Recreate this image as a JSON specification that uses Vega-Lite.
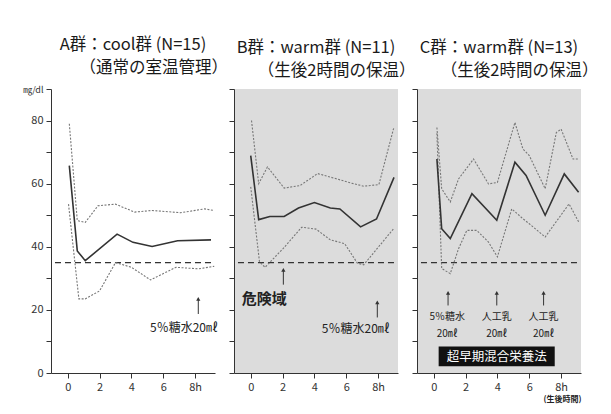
{
  "$schema": "https://vega.github.io/schema/vega-lite/v6.json",
  "background": "white",
  "padding": {"left": 22, "top": 36, "right": 5, "bottom": 5},
  "bounds": "flush",
  "spacing": 19,
  "config": {
    "font": "Noto Sans CJK JP",
    "view": {"stroke": null},
    "axis": {"grid": false, "domainColor": "#333", "tickColor": "#333", "labelColor": "#333", "labelFont": "Noto Sans CJK JP", "labelFontSize": 11, "tickSize": 5, "labelPadding": 3, "titleFont": "Noto Sans CJK JP", "titleColor": "#222"},
    "title": {"font": "Noto Sans CJK JP", "fontSize": 16.5, "fontWeight": "normal", "color": "#1a1a1a", "lineHeight": 23, "offset": 9, "anchor": "middle"},
    "text": {"font": "Noto Sans CJK JP", "color": "#222"}
  },
  "datasets": {
    "A": [
      {"s": "mean", "h": 0.1, "v": 65.7}, {"s": "mean", "h": 0.6, "v": 38.7}, {"s": "mean", "h": 1.1, "v": 35.6}, {"s": "mean", "h": 3.1, "v": 44}, {"s": "mean", "h": 4.1, "v": 41.4}, {"s": "mean", "h": 5.3, "v": 40.1}, {"s": "mean", "h": 6.9, "v": 41.9}, {"s": "mean", "h": 9.0, "v": 42.2},
      {"s": "upper", "h": 0.1, "v": 79}, {"s": "upper", "h": 0.6, "v": 48.3}, {"s": "upper", "h": 1.1, "v": 47.7}, {"s": "upper", "h": 1.9, "v": 53}, {"s": "upper", "h": 3.0, "v": 53.5}, {"s": "upper", "h": 4.2, "v": 51}, {"s": "upper", "h": 5.3, "v": 51.5}, {"s": "upper", "h": 7.1, "v": 50.8}, {"s": "upper", "h": 8.6, "v": 52}, {"s": "upper", "h": 9.2, "v": 51.5},
      {"s": "lower", "h": 0.05, "v": 53.5}, {"s": "lower", "h": 0.7, "v": 23.5}, {"s": "lower", "h": 1.1, "v": 23.5}, {"s": "lower", "h": 2.0, "v": 26}, {"s": "lower", "h": 3.0, "v": 35}, {"s": "lower", "h": 4.0, "v": 33.5}, {"s": "lower", "h": 5.2, "v": 29.5}, {"s": "lower", "h": 6.8, "v": 33.5}, {"s": "lower", "h": 8.2, "v": 33}, {"s": "lower", "h": 9.2, "v": 33.8}
    ],
    "B": [
      {"s": "upper", "h": 0.05, "v": 80}, {"s": "upper", "h": 0.5, "v": 60}, {"s": "upper", "h": 1.05, "v": 65.3}, {"s": "upper", "h": 2.1, "v": 58.6}, {"s": "upper", "h": 3.1, "v": 59.4}, {"s": "upper", "h": 4.2, "v": 63.2}, {"s": "upper", "h": 5.2, "v": 61.8}, {"s": "upper", "h": 6.3, "v": 60.2}, {"s": "upper", "h": 7.1, "v": 59.2}, {"s": "upper", "h": 8.05, "v": 59.7}, {"s": "upper", "h": 9.0, "v": 78},
      {"s": "mean", "h": 0.0, "v": 68.9}, {"s": "mean", "h": 0.5, "v": 48.6}, {"s": "mean", "h": 1.2, "v": 49.6}, {"s": "mean", "h": 2.1, "v": 49.6}, {"s": "mean", "h": 3.0, "v": 52.3}, {"s": "mean", "h": 4.0, "v": 54}, {"s": "mean", "h": 5.0, "v": 52.3}, {"s": "mean", "h": 5.6, "v": 52}, {"s": "mean", "h": 6.9, "v": 46.3}, {"s": "mean", "h": 7.9, "v": 48.8}, {"s": "mean", "h": 9.0, "v": 62},
      {"s": "lower", "h": 0.0, "v": 59}, {"s": "lower", "h": 0.55, "v": 35.3}, {"s": "lower", "h": 0.9, "v": 33.5}, {"s": "lower", "h": 2.05, "v": 39.5}, {"s": "lower", "h": 3.2, "v": 46.2}, {"s": "lower", "h": 4.1, "v": 45.6}, {"s": "lower", "h": 5.0, "v": 42.2}, {"s": "lower", "h": 5.9, "v": 41}, {"s": "lower", "h": 6.7, "v": 34.8}, {"s": "lower", "h": 7.1, "v": 34.3}, {"s": "lower", "h": 9.0, "v": 45.9}
    ],
    "C": [
      {"s": "upper", "h": 0.2, "v": 77.8}, {"s": "upper", "h": 0.5, "v": 58.4}, {"s": "upper", "h": 1.04, "v": 54.2}, {"s": "upper", "h": 1.56, "v": 61.5}, {"s": "upper", "h": 2.5, "v": 67.8}, {"s": "upper", "h": 3.44, "v": 59.9}, {"s": "upper", "h": 4.0, "v": 60.4}, {"s": "upper", "h": 5.1, "v": 79.4}, {"s": "upper", "h": 5.6, "v": 71}, {"s": "upper", "h": 6.0, "v": 68.9}, {"s": "upper", "h": 7.0, "v": 58.4}, {"s": "upper", "h": 7.7, "v": 76.2}, {"s": "upper", "h": 8.0, "v": 77.3}, {"s": "upper", "h": 8.75, "v": 67.8}, {"s": "upper", "h": 9.1, "v": 67.8},
      {"s": "mean", "h": 0.2, "v": 67.8}, {"s": "mean", "h": 0.5, "v": 45.7}, {"s": "mean", "h": 1.04, "v": 42.6}, {"s": "mean", "h": 2.4, "v": 56.8}, {"s": "mean", "h": 3.96, "v": 48.4}, {"s": "mean", "h": 5.1, "v": 66.8}, {"s": "mean", "h": 5.8, "v": 62.6}, {"s": "mean", "h": 7.0, "v": 50}, {"s": "mean", "h": 8.2, "v": 63.1}, {"s": "mean", "h": 9.1, "v": 57.3},
      {"s": "lower", "h": 0.2, "v": 76}, {"s": "lower", "h": 0.5, "v": 33.1}, {"s": "lower", "h": 1.04, "v": 31.5}, {"s": "lower", "h": 1.56, "v": 39.4}, {"s": "lower", "h": 2.08, "v": 45.2}, {"s": "lower", "h": 2.7, "v": 45.2}, {"s": "lower", "h": 3.44, "v": 41.5}, {"s": "lower", "h": 4.0, "v": 36.8}, {"s": "lower", "h": 4.9, "v": 52}, {"s": "lower", "h": 5.6, "v": 48.9}, {"s": "lower", "h": 6.0, "v": 47.3}, {"s": "lower", "h": 7.0, "v": 43.1}, {"s": "lower", "h": 8.5, "v": 53.6}, {"s": "lower", "h": 9.1, "v": 47.9}
    ],
    "danger": [{"h": -0.8, "h2": 9.2, "v": 35}],
    "arrA": [{"h": 8.2, "v": 18.7, "v2": 23.5}],
    "txtA": [{"h": 7.3, "v": 14.4, "t": "5％糖水20㎖"}],
    "arrB": [{"h": 2.05, "v": 28, "v2": 32.7}, {"h": 7.95, "v": 17.6, "v2": 22.4}],
    "txtB": [{"h": 6.6, "v": 14, "t": "5％糖水20㎖"}],
    "bigB": [{"h": 0.85, "v": 23.5, "t": "危険域"}],
    "arrC": [{"h": 0.9, "v": 21.4, "v2": 25.4}, {"h": 3.96, "v": 21.4, "v2": 25.4}, {"h": 6.9, "v": 21.4, "v2": 25.4}],
    "txtC": [{"h": 0.85, "v": 17.7, "t": "5％糖水"}, {"h": 0.85, "v": 12.3, "t": "20㎖"}, {"h": 3.96, "v": 17.7, "t": "人工乳"}, {"h": 3.96, "v": 12.3, "t": "20㎖"}, {"h": 6.9, "v": 17.7, "t": "人工乳"}, {"h": 6.9, "v": 12.3, "t": "20㎖"}],
    "boxC": [{"h": 0.31, "h2": 7.6, "v": 2.1, "v2": 8.4, "c": 3.96, "m": 5.0, "t": "超早期混合栄養法"}]
  },
  "hconcat": [
    {
      "width": 164, "height": 284,
      "title": {"text": ["A群：cool群 (N=15)", "\u200b　　\u2002（通常の室温管理）"]},
      "encoding": {
        "x": {"field": "h", "type": "quantitative", "scale": {"domain": [-1.05, 9.25], "nice": false, "zero": false}, "axis": {"values": [0, 2, 4, 6, 8], "labelExpr": "datum.value == 8 ? '8h' : datum.label", "title": null}},
        "y": {"field": "v", "type": "quantitative", "scale": {"domain": [0, 90], "nice": false}, "axis": {"values": [0, 10, 20, 30, 40, 50, 60, 70, 80, 90], "labelExpr": "datum.value == 90 ? '㎎/dl' : (datum.value % 20 == 0 ? datum.label : '')", "labelFontSize": {"condition": {"test": "datum.value == 90", "value": 9}, "value": 11}, "title": null}}
      },
      "layer": [
        {"data": {"name": "danger"}, "mark": {"type": "rule", "color": "#333", "strokeWidth": 1.2, "strokeDash": [6, 4]}, "encoding": {"x2": {"field": "h2"}}},
        {"data": {"name": "A"}, "transform": [{"filter": "datum.s != 'mean'"}], "mark": {"type": "line", "color": "#777", "strokeWidth": 1.1, "strokeDash": [2, 1.5]}, "encoding": {"detail": {"field": "s"}}},
        {"data": {"name": "A"}, "transform": [{"filter": "datum.s == 'mean'"}], "mark": {"type": "line", "color": "#333", "strokeWidth": 1.6}},
        {"data": {"name": "arrA"}, "mark": {"type": "rule", "color": "#333", "strokeWidth": 1}, "encoding": {"y2": {"field": "v2"}}},
        {"data": {"name": "arrA"}, "mark": {"type": "point", "shape": "triangle-up", "filled": true, "color": "#333", "size": 18, "opacity": 1}, "encoding": {"y": {"field": "v2", "type": "quantitative"}}},
        {"data": {"name": "txtA"}, "mark": {"type": "text", "fontSize": 12}, "encoding": {"text": {"field": "t"}}}
      ]
    },
    {
      "width": 164, "height": 284,
      "view": {"fill": "#dcdcdc", "stroke": null},
      "title": {"text": ["B群：warm群 (N=11)", "\u200b　　\u2002（生後2時間の保温）"]},
      "encoding": {
        "x": {"field": "h", "type": "quantitative", "scale": {"domain": [-1.05, 9.25], "nice": false, "zero": false}, "axis": {"values": [0, 2, 4, 6, 8], "labelExpr": "datum.value == 8 ? '8h' : datum.label", "title": null}},
        "y": {"field": "v", "type": "quantitative", "scale": {"domain": [0, 90], "nice": false}, "axis": {"values": [0, 10, 20, 30, 40, 50, 60, 70, 80, 90], "labels": false, "title": null}}
      },
      "layer": [
        {"data": {"name": "danger"}, "mark": {"type": "rule", "color": "#333", "strokeWidth": 1.2, "strokeDash": [6, 4]}, "encoding": {"x2": {"field": "h2"}}},
        {"data": {"name": "B"}, "transform": [{"filter": "datum.s != 'mean'"}], "mark": {"type": "line", "color": "#777", "strokeWidth": 1.1, "strokeDash": [2, 1.5]}, "encoding": {"detail": {"field": "s"}}},
        {"data": {"name": "B"}, "transform": [{"filter": "datum.s == 'mean'"}], "mark": {"type": "line", "color": "#333", "strokeWidth": 1.6}},
        {"data": {"name": "arrB"}, "mark": {"type": "rule", "color": "#333", "strokeWidth": 1}, "encoding": {"y2": {"field": "v2"}}},
        {"data": {"name": "arrB"}, "mark": {"type": "point", "shape": "triangle-up", "filled": true, "color": "#333", "size": 18, "opacity": 1}, "encoding": {"y": {"field": "v2", "type": "quantitative"}}},
        {"data": {"name": "txtB"}, "mark": {"type": "text", "fontSize": 12}, "encoding": {"text": {"field": "t"}}},
        {"data": {"name": "bigB"}, "mark": {"type": "text", "fontSize": 15, "fontWeight": "bold"}, "encoding": {"text": {"field": "t"}}}
      ]
    },
    {
      "width": 164, "height": 284,
      "view": {"fill": "#dcdcdc", "stroke": null},
      "title": {"text": ["C群：warm群 (N=13)", "\u200b　　\u2002（生後2時間の保温）"]},
      "encoding": {
        "x": {"field": "h", "type": "quantitative", "scale": {"domain": [-1.05, 9.25], "nice": false, "zero": false}, "axis": {"values": [0, 2, 4, 6, 8], "labelExpr": "datum.value == 8 ? '8h' : datum.label", "title": "(生後時間)", "titleFontSize": 8, "titleFontWeight": "bold", "titleAnchor": "end", "titlePadding": 3}},
        "y": {"field": "v", "type": "quantitative", "scale": {"domain": [0, 90], "nice": false}, "axis": {"values": [0, 10, 20, 30, 40, 50, 60, 70, 80, 90], "labels": false, "title": null}}
      },
      "layer": [
        {"data": {"name": "danger"}, "mark": {"type": "rule", "color": "#333", "strokeWidth": 1.2, "strokeDash": [6, 4]}, "encoding": {"x2": {"field": "h2"}}},
        {"data": {"name": "C"}, "transform": [{"filter": "datum.s != 'mean'"}], "mark": {"type": "line", "color": "#777", "strokeWidth": 1.1, "strokeDash": [2, 1.5]}, "encoding": {"detail": {"field": "s"}}},
        {"data": {"name": "C"}, "transform": [{"filter": "datum.s == 'mean'"}], "mark": {"type": "line", "color": "#333", "strokeWidth": 1.6}},
        {"data": {"name": "arrC"}, "mark": {"type": "rule", "color": "#333", "strokeWidth": 1}, "encoding": {"y2": {"field": "v2"}}},
        {"data": {"name": "arrC"}, "mark": {"type": "point", "shape": "triangle-up", "filled": true, "color": "#333", "size": 18, "opacity": 1}, "encoding": {"y": {"field": "v2", "type": "quantitative"}}},
        {"data": {"name": "txtC"}, "mark": {"type": "text", "fontSize": 10}, "encoding": {"text": {"field": "t"}}},
        {"data": {"name": "boxC"}, "mark": {"type": "rect", "color": "#111"}, "encoding": {"x2": {"field": "h2"}, "y2": {"field": "v2"}}},
        {"data": {"name": "boxC"}, "mark": {"type": "text", "fontSize": 12.5, "color": "white"}, "encoding": {"x": {"field": "c", "type": "quantitative"}, "y": {"field": "m", "type": "quantitative"}, "text": {"field": "t"}}}
      ]
    }
  ]
}
